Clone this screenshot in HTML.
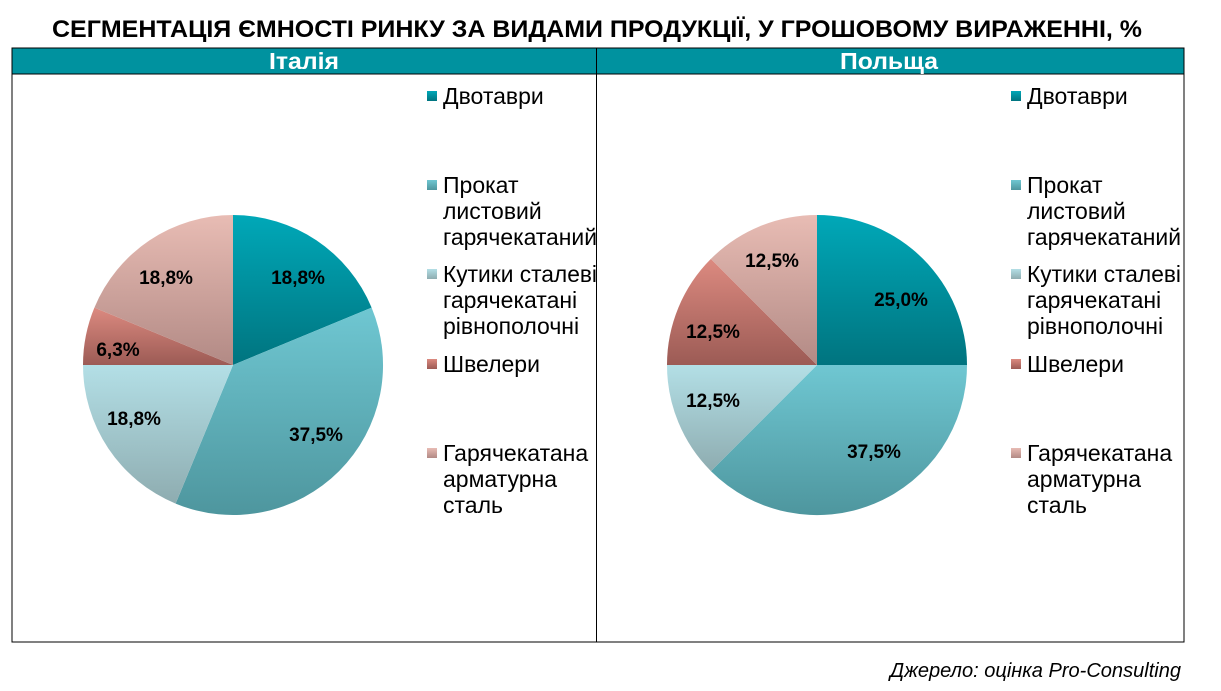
<!DOCTYPE html>
<html><head><meta charset="utf-8"><style>
body{margin:0;background:#fff;width:1221px;height:686px;overflow:hidden;font-family:"Liberation Sans",Arial,sans-serif}
</style></head><body>
<svg width="1221" height="686" xmlns="http://www.w3.org/2000/svg" font-family="Liberation Sans, Arial, sans-serif">
<defs>
<linearGradient id="g1" x1="0" y1="0" x2="0" y2="1"><stop offset="0" stop-color="#00a8b8"/><stop offset="1" stop-color="#00747f"/></linearGradient>
<linearGradient id="g2" x1="0" y1="0" x2="0" y2="1"><stop offset="0" stop-color="#6fc7d2"/><stop offset="1" stop-color="#4e969e"/></linearGradient>
<linearGradient id="g3" x1="0" y1="0" x2="0" y2="1"><stop offset="0" stop-color="#b3dfe6"/><stop offset="1" stop-color="#8eacb0"/></linearGradient>
<linearGradient id="g4" x1="0" y1="0" x2="0" y2="1"><stop offset="0" stop-color="#dc8a80"/><stop offset="1" stop-color="#9c5b55"/></linearGradient>
<linearGradient id="g5" x1="0" y1="0" x2="0" y2="1"><stop offset="0" stop-color="#e8bcb4"/><stop offset="1" stop-color="#b28a85"/></linearGradient>
</defs>
<text x="52" y="37" font-size="24" font-weight="bold" textLength="1090" lengthAdjust="spacingAndGlyphs">СЕГМЕНТАЦІЯ ЄМНОСТІ РИНКУ ЗА ВИДАМИ ПРОДУКЦІЇ, У ГРОШОВОМУ ВИРАЖЕННІ, %</text>
<rect x="12" y="48" width="1172" height="26" fill="#00929f"/>
<rect x="12" y="48" width="1172" height="594" fill="none" stroke="#000" stroke-width="1"/>
<line x1="12" y1="74" x2="1184" y2="74" stroke="#000"/>
<line x1="596.5" y1="48" x2="596.5" y2="642" stroke="#000"/>
<text x="269" y="69" font-size="23" font-weight="bold" fill="#fff" textLength="70" lengthAdjust="spacingAndGlyphs">Італія</text>
<text x="840" y="69" font-size="23" font-weight="bold" fill="#fff" textLength="98" lengthAdjust="spacingAndGlyphs">Польща</text>
<path d="M233,365 L233,215 A150,150 0 0 1 371.6,307.6 Z" fill="url(#g1)"/>
<path d="M233,365 L371.6,307.6 A150,150 0 0 1 175.6,503.6 Z" fill="url(#g2)"/>
<path d="M233,365 L175.6,503.6 A150,150 0 0 1 83,365 Z" fill="url(#g3)"/>
<path d="M233,365 L83,365 A150,150 0 0 1 94.4,307.6 Z" fill="url(#g4)"/>
<path d="M233,365 L94.4,307.6 A150,150 0 0 1 233,215 Z" fill="url(#g5)"/>
<g font-size="19" font-weight="bold" text-anchor="middle">
<text x="298" y="284">18,8%</text><text x="316" y="441">37,5%</text><text x="134" y="425">18,8%</text><text x="118" y="356">6,3%</text><text x="166" y="284">18,8%</text>
</g>
<path d="M817,365 L817,215 A150,150 0 0 1 967,365 Z" fill="url(#g1)"/>
<path d="M817,365 L967,365 A150,150 0 0 1 710.9,471.1 Z" fill="url(#g2)"/>
<path d="M817,365 L710.9,471.1 A150,150 0 0 1 667,365 Z" fill="url(#g3)"/>
<path d="M817,365 L667,365 A150,150 0 0 1 710.9,258.9 Z" fill="url(#g4)"/>
<path d="M817,365 L710.9,258.9 A150,150 0 0 1 817,215 Z" fill="url(#g5)"/>
<g font-size="19" font-weight="bold" text-anchor="middle">
<text x="901" y="306">25,0%</text><text x="874" y="458">37,5%</text><text x="713" y="407">12,5%</text><text x="713" y="338">12,5%</text><text x="772" y="267">12,5%</text>
</g>
<g font-size="23" fill="#000">
<rect x="427" y="91" width="10" height="10" fill="url(#g1)"/><text x="443" y="104">Двотаври</text>
<rect x="427" y="180" width="10" height="10" fill="url(#g2)"/><text x="443" y="193">Прокат</text><text x="443" y="219">листовий</text><text x="443" y="245" textLength="154" lengthAdjust="spacingAndGlyphs">гарячекатаний</text>
<rect x="427" y="269" width="10" height="10" fill="url(#g3)"/><text x="443" y="282" textLength="154" lengthAdjust="spacingAndGlyphs">Кутики сталеві</text><text x="443" y="308">гарячекатані</text><text x="443" y="334">рівнополочні</text>
<rect x="427" y="359" width="10" height="10" fill="url(#g4)"/><text x="443" y="372">Швелери</text>
<rect x="427" y="448" width="10" height="10" fill="url(#g5)"/><text x="443" y="461">Гарячекатана</text><text x="443" y="487">арматурна</text><text x="443" y="513">сталь</text>
</g>
<g font-size="23" fill="#000" transform="translate(584,0)">
<rect x="427" y="91" width="10" height="10" fill="url(#g1)"/><text x="443" y="104">Двотаври</text>
<rect x="427" y="180" width="10" height="10" fill="url(#g2)"/><text x="443" y="193">Прокат</text><text x="443" y="219">листовий</text><text x="443" y="245" textLength="154" lengthAdjust="spacingAndGlyphs">гарячекатаний</text>
<rect x="427" y="269" width="10" height="10" fill="url(#g3)"/><text x="443" y="282" textLength="154" lengthAdjust="spacingAndGlyphs">Кутики сталеві</text><text x="443" y="308">гарячекатані</text><text x="443" y="334">рівнополочні</text>
<rect x="427" y="359" width="10" height="10" fill="url(#g4)"/><text x="443" y="372">Швелери</text>
<rect x="427" y="448" width="10" height="10" fill="url(#g5)"/><text x="443" y="461">Гарячекатана</text><text x="443" y="487">арматурна</text><text x="443" y="513">сталь</text>
</g>
<text x="890" y="677" font-size="20" font-style="italic" textLength="291" lengthAdjust="spacingAndGlyphs">Джерело: оцінка Pro-Consulting</text>
</svg>
</body></html>
